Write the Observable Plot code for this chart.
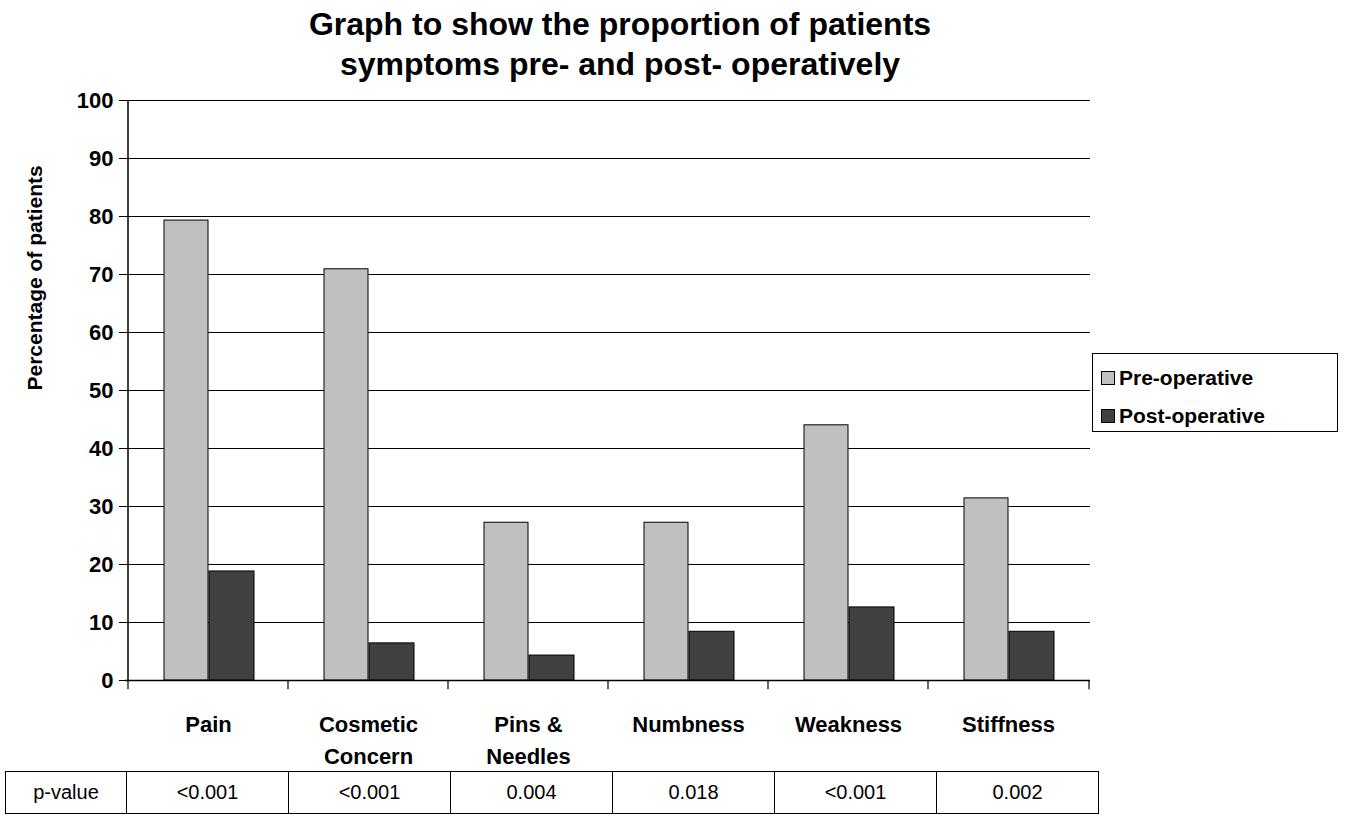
<!DOCTYPE html>
<html><head><meta charset="utf-8">
<script src="https://cdn.jsdelivr.net/npm/d3@7"></script>
<script src="https://cdn.jsdelivr.net/npm/@observablehq/plot@0.6"></script>
<style>
body{margin:0;background:#fff;font-family:"Liberation Sans",Arial,sans-serif;}
#wrap{position:relative;width:1345px;height:821px;}
#title{position:absolute;left:0;width:1240px;top:4px;text-align:center;font-weight:bold;font-size:32px;line-height:40px;}
#legend{position:absolute;left:1092px;top:353px;width:246px;height:79px;border:1.5px solid #000;box-sizing:border-box;font-weight:bold;font-size:21px;}
#legend div{position:absolute;left:8px;display:flex;align-items:center;}
#legend span.sw{display:inline-block;width:12px;height:12px;border:1px solid #000;margin-right:4px;}
table{position:absolute;left:5px;top:771px;border-collapse:collapse;font-size:20px;table-layout:fixed;width:1087px;}
td{border:1.5px solid #000;height:41px;text-align:center;padding:0;}
</style></head><body>
<div id="wrap">
<div id="title">Graph to show the proportion of patients<br>symptoms pre- and post- operatively</div>
<div id="chart"></div>
<div id="legend">
<div style="top:12px"><span class="sw" style="background:#c0c0c0"></span>Pre-operative</div>
<div style="top:50px"><span class="sw" style="background:#404040"></span>Post-operative</div>
</div>
<table id="tbl"></table>
</div>
<script>
const categories = ["Pain","Cosmetic Concern","Pins & Needles","Numbness","Weakness","Stiffness"];
const categoryLabels = ["Pain","Cosmetic\nConcern","Pins &\nNeedles","Numbness","Weakness","Stiffness"];
const preOp = [79.3, 70.9, 27.2, 27.2, 44.0, 31.4];
const postOp = [18.8, 6.4, 4.3, 8.4, 12.6, 8.4];
const pValues = ["<0.001","<0.001","0.004","0.018","<0.001","0.002"];
const yTicks = [0,10,20,30,40,50,60,70,80,90,100];

const pre = categories.map((c,i)=>({c, v:preOp[i]}));
const post = categories.map((c,i)=>({c, v:postOp[i]}));
const labels = categories.map((c,i)=>({c, t:categoryLabels[i]}));

const chart = Plot.plot({
  width:1345, height:780,
  marginLeft:125, marginRight:255, marginTop:100, marginBottom:100,
  style:{fontFamily:"Liberation Sans, Arial, sans-serif", background:"transparent"},
  x:{domain:categories, padding:0, axis:null},
  y:{domain:[0,100], ticks:yTicks, label:null, tickFormat:d=>d},
  marks:[
    Plot.ruleY(yTicks.slice(1), {stroke:"#000", strokeWidth:1.2}),
    Plot.axisY({ticks:yTicks, label:null, fontSize:22, fontWeight:"bold", tickSize:6, tickPadding:6, color:"#000"}),
    Plot.ruleX([0],{x:()=>categories[0], dx:-80.5, y1:0, y2:100, stroke:"#000", strokeWidth:1.5}),
    Plot.barY(pre,{x:"c", y:"v", fill:"#c0c0c0", stroke:"#000", strokeWidth:1, insetLeft:36, insetRight:80}),
    Plot.barY(post,{x:"c", y:"v", fill:"#404040", stroke:"#000", strokeWidth:1, insetLeft:81, insetRight:34}),
    Plot.ruleY([0],{stroke:"#000", strokeWidth:1.5}),
    Plot.ruleX(categories,{x:d=>d, dx:-80.5, y1:0, y2:-1.6, stroke:"#000", strokeWidth:1.2, clip:false}),
    Plot.ruleX([categories[5]],{x:d=>d, dx:80.5, y1:0, y2:-1.6, stroke:"#000", strokeWidth:1.2}),
    Plot.text(labels,{x:"c", y:0, text:"t", dy:29, lineAnchor:"top", fontSize:22, fontWeight:"bold", lineHeight:1.45, fill:"#000"}),
    Plot.text(["Percentage of patients"],{frameAnchor:"left", dx:-90, rotate:-90, fontSize:21, fontWeight:"bold", fill:"#000"})
  ]
});
document.getElementById("chart").appendChild(chart);

const tr = document.createElement("tr");
const widths=[120,161,161,161,161,161,161];
["p-value",...pValues].forEach((t,i)=>{const td=document.createElement("td");td.textContent=t;td.style.width=widths[i]+"px";tr.appendChild(td);});
document.getElementById("tbl").appendChild(tr);
</script>
</body></html>
